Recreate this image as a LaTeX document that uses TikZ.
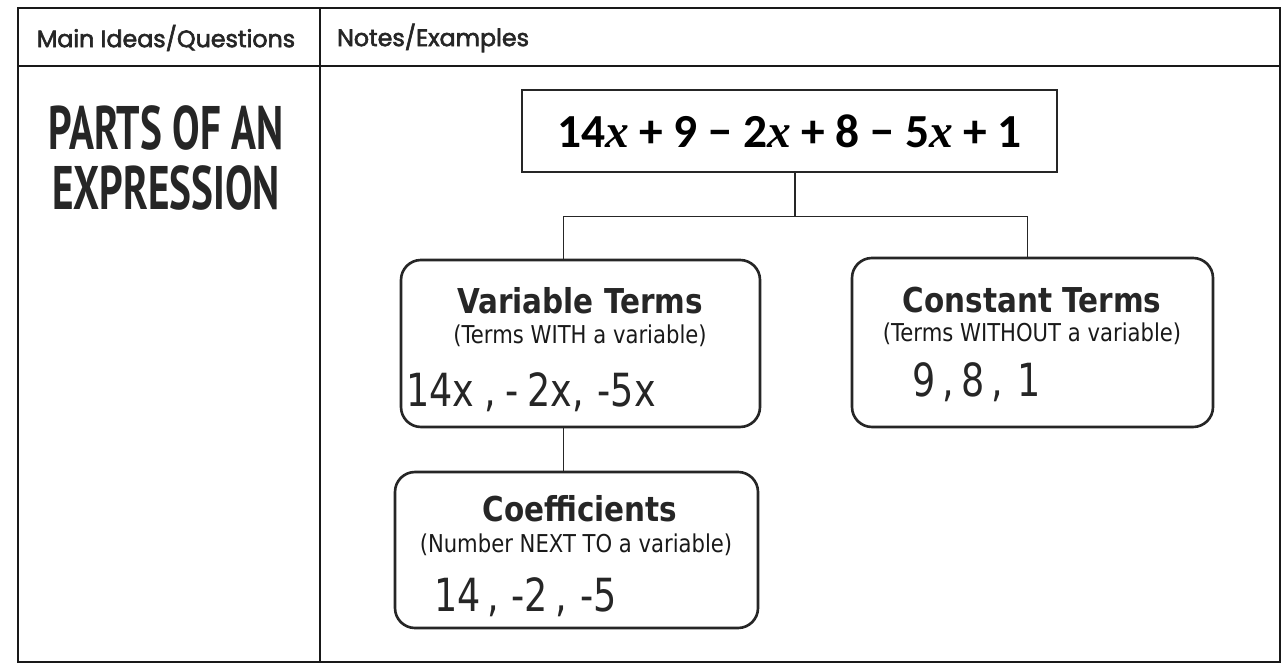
\documentclass[tikz,border=0pt]{standalone}
\usepackage{fontspec}
\setmainfont{DejaVu Sans}
\newfontfamily\headfont[FakeBold=2.5]{Poppins}
\newfontfamily\titlefont[FakeStretch=0.67]{PT Sans}
\newfontfamily\exprfont{Carlito}
\newfontfamily\xfont{Liberation Serif}
\newfontfamily\boxfont[FakeStretch=0.86]{DejaVu Sans}
\newfontfamily\handfont[FakeStretch=0.8]{DejaVu Sans}
\usetikzlibrary{calc, positioning}

\begin{document}
\begin{tikzpicture}[
  x=0.02cm, y=-0.02cm,
  grid/.style={draw=black!90, line width=1.2pt},
  exprbox/.style={rectangle, draw=black!85, line width=1.5pt, minimum width=535*0.02cm, minimum height=82*0.02cm, inner sep=0pt},
  termbox/.style={rectangle, rounded corners=4mm, draw=black!85, line width=1.5pt, inner sep=0pt},
  link/.style={draw=black!85, line width=0.9pt},
  colhead/.style={font=\headfont\fontsize{13.5}{15}\selectfont, text=black!85},
  boxhead/.style={font=\boxfont\bfseries\fontsize{19.5}{22}\selectfont, text=black!85},
  boxsub/.style={font=\boxfont\fontsize{14}{16}\selectfont, text=black!90},
  hand/.style={font=\handfont\fontsize{26}{28}\selectfont, text=black!85}
]

\useasboundingbox (0,0) rectangle (1285,665);

% table frame
\draw[grid] (18,8) rectangle (1280,662);
\draw[grid] (18,66) -- (1280,66);
\draw[grid] (320,8) -- (320,662);

\node[colhead] (mainhead) at (166,38) {Main Ideas/Questions};
\node[colhead, anchor=west] (noteshead) at (331,38) {Notes/Examples};

\node[font=\titlefont\bfseries\fontsize{35}{34}\selectfont, align=center, text=black!85] (title) at (166,158) {PARTS OF AN\\EXPRESSION};

% boxes
\node[exprbox] (expr) at (789.5,131) {\exprfont\bfseries\fontsize{27}{29}\selectfont 14{\xfont\itshape x} + 9 − 2{\xfont\itshape x} + 8 − 5{\xfont\itshape x} + 1};

\node[termbox, minimum width=359*0.02cm, minimum height=167*0.02cm] (varbox) at (580.5,343.5) {};
\node[termbox, minimum width=361*0.02cm, minimum height=169*0.02cm] (constbox) at (1032.5,342.5) {};
\node[termbox, minimum width=363*0.02cm, minimum height=156*0.02cm] (coefbox) at (576.5,550) {};

\node[boxhead] (varhead) at (580,301) {Variable Terms};
\node[boxsub] (varsub) at (580,336) {(Terms WITH a variable)};
\node[hand, anchor=west] (varvals) at (400,392) {14x\hspace{6pt},\hspace{5pt}-\hspace{5pt}2x,\hspace{8pt}-5x};

\node[boxhead] (consthead) at (1032,300) {Constant Terms};
\node[boxsub] (constsub) at (1032,334) {(Terms WITHOUT a variable)};
\node[hand, anchor=west] (constvals) at (906,382) {9\hspace{4pt},\hspace{4pt}8\hspace{4pt},\hspace{8pt}1};

\node[boxhead] (coefhead) at (580,509) {Coefficients};
\node[boxsub] (coefsub) at (576,545) {(Number NEXT TO a variable)};
\node[hand, anchor=west] (coefvals) at (428,597) {14\hspace{4pt},\hspace{7pt}-2\hspace{4pt},\hspace{8pt}-5};

% connectors
\coordinate (split) at ($(expr.south)+(5.5,43)$);
\coordinate (varfoot) at ($(varbox.south)+(-17,0)$);
\draw[link] (expr.south -| split) -- (split);
\draw[link] (split) -| ($(varbox.north)+(-17,0)$);
\draw[link] (split) -| ($(constbox.north)+(-5,0)$);
\draw[link] (varfoot) -- (varfoot |- coefbox.north);

\end{tikzpicture}
\end{document}
